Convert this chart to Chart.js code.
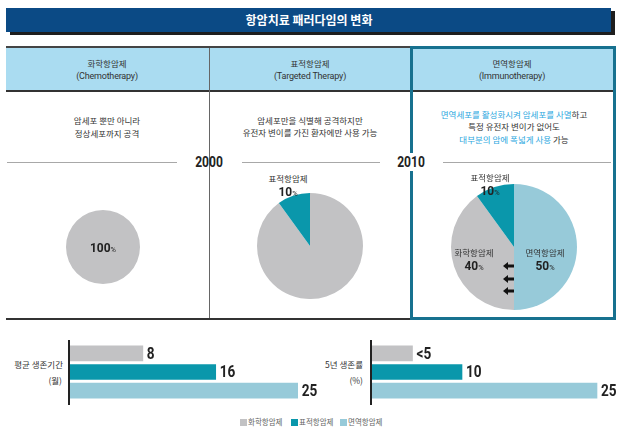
<!DOCTYPE html>
<html>
<head>
<meta charset="utf-8">
<script src="https://cdn.jsdelivr.net/npm/chart.js@4.4.1/dist/chart.umd.min.js"></script>
<style>
body { margin: 0; width: 630px; height: 436px; background: #fff; position: relative; overflow: hidden;
       font-family: 'Noto Sans CJK KR', sans-serif; color: #333; }
.a { position: absolute; }
.t { position: absolute; transform: translate(-50%, -50%); white-space: nowrap; text-align: center; line-height: 1; }
.r { position: absolute; transform: translate(-100%, -50%); white-space: nowrap; text-align: right; line-height: 1; }
.kr { font-size: 8.5px; }
.en { font-family: Roboto, 'Liberation Sans', sans-serif; font-size: 9px; letter-spacing: -0.2px; }
.num { font-family: Roboto, 'Liberation Sans', sans-serif; font-weight: bold; font-size: 14px; color: #222;
       transform: translate(-50%, -50%) scaleX(0.86); }
.pn { font-size: 13px; transform: translate(-50%, -50%) scaleX(0.92); }
.num small { font-size: 8px; font-weight: normal; }
.hl { color: #2aa7e0; }
.hline { position: absolute; height: 1px; background: #a8a8a8; }
canvas { position: absolute; }
.lg { position: absolute; top: 419px; width: 7px; height: 7px; }
.lt { position: absolute; top: 418px; font-size: 7.5px; color: #666; line-height: 1; }
</style>
</head>
<body>

<!-- title bar -->
<div class="a" style="left:6px;top:8px;width:605px;height:24px;background:#0b4a85;box-shadow:4px 3px 0 #1e1e1e;"></div>
<div class="t" style="left:309px;top:20px;color:#fff;font-size:12px;font-weight:bold;">항암치료 패러다임의 변화</div>

<!-- header band -->
<div class="a" style="left:6px;top:46px;width:608px;height:42px;background:#aadcf1;border-top:2px solid #444;border-bottom:2px solid #333;"></div>
<div class="a" style="left:209px;top:48px;width:1px;height:270px;background:#666;"></div>
<div class="a" style="left:6px;top:318px;width:405px;height:2px;background:#333;"></div>
<div class="a" style="left:410px;top:46px;width:206px;height:274px;border:3px solid #17718f;box-sizing:border-box;"></div>

<div class="t kr" style="left:107px;top:63px;">화학항암제</div>
<div class="t en" style="left:107px;top:76px;">(Chemotherapy)</div>
<div class="t kr" style="left:310px;top:63px;">표적항암제</div>
<div class="t en" style="left:310px;top:76px;">(Targeted Therapy)</div>
<div class="t kr" style="left:512px;top:63px;">면역항암제</div>
<div class="t en" style="left:512px;top:76px;">(Immunotherapy)</div>

<!-- descriptions -->
<div class="t kr" style="left:107px;top:120px;">암세포 뿐만 아니라</div>
<div class="t kr" style="left:107px;top:133px;">정상세포까지 공격</div>
<div class="t kr" style="left:310px;top:120px;">암세포만을 식별해 공격하지만</div>
<div class="t kr" style="left:310px;top:132px;">유전자 변이를 가진 환자에만 사용 가능</div>
<div class="t kr" style="left:514px;top:114px;"><span class="hl">면역세포를 활성화시켜 암세포를 사멸</span>하고</div>
<div class="t kr" style="left:514px;top:126px;">특정 유전자 변이가 없어도</div>
<div class="t kr" style="left:514px;top:139px;"><span class="hl">대부분의 암에 폭넓게 사용</span> 가능</div>

<!-- timeline -->
<div class="hline" style="left:7px;top:162px;width:170px;"></div>
<div class="hline" style="left:242px;top:162px;width:138px;"></div>
<div class="hline" style="left:443px;top:162px;width:168px;"></div>
<div class="t num" style="left:209px;top:162px;">2000</div>
<div class="t num" style="left:411px;top:162px;background:#fff;padding:2px 3px;">2010</div>

<!-- pies -->
<canvas id="pie1" width="74" height="74" style="left:66px;top:210px;"></canvas>
<canvas id="pie2" width="106" height="106" style="left:257px;top:193px;"></canvas>
<canvas id="pie3" width="126" height="126" style="left:451px;top:184px;"></canvas>

<div class="t num pn" style="left:103px;top:247px;">100<small>%</small></div>
<div class="t kr" style="left:288px;top:178px;">표적항암제</div>
<div class="t num pn" style="left:288px;top:191px;">10<small>%</small></div>
<div class="t kr" style="left:490px;top:177px;">표적항암제</div>
<div class="t num pn" style="left:490px;top:190px;">10<small>%</small></div>
<div class="t kr" style="left:474px;top:252px;">화학항암제</div>
<div class="t num pn" style="left:474px;top:265px;">40<small>%</small></div>
<div class="t kr" style="left:545px;top:252px;">면역항암제</div>
<div class="t num pn" style="left:545px;top:265px;">50<small>%</small></div>

<svg class="a" style="left:503px;top:262px;" width="12" height="34">
  <path d="M0 4 L5 0 L5 2.5 L11 2.5 L11 5.5 L5 5.5 L5 8 Z" fill="#111"/>
  <path d="M0 17 L5 13 L5 15.5 L11 15.5 L11 18.5 L5 18.5 L5 21 Z" fill="#111"/>
  <path d="M0 29 L5 25 L5 27.5 L11 27.5 L11 30.5 L5 30.5 L5 33 Z" fill="#111"/>
</svg>

<!-- bar charts -->
<div class="r kr" style="left:63px;top:364px;">평균 생존기간</div>
<div class="r kr" style="left:62px;top:380px;">(월)</div>
<canvas id="bar1" width="258" height="68" style="left:67px;top:338px;"></canvas>

<div class="r kr" style="left:363px;top:364px;">5년 생존률</div>
<div class="r kr" style="left:363px;top:380px;">(%)</div>
<canvas id="bar2" width="255" height="68" style="left:369px;top:338px;"></canvas>

<!-- legend -->
<div class="lg" style="left:240px;background:#c2c2c4;"></div>
<div class="lt" style="left:248px;">화학항암제</div>
<div class="lg" style="left:291px;background:#0a97ab;"></div>
<div class="lt" style="left:299px;">표적항암제</div>
<div class="lg" style="left:340px;background:#97cad9;"></div>
<div class="lt" style="left:348px;">면역항암제</div>

<script>
// therapy names and colours
const therapies = ['화학항암제', '표적항암제', '면역항암제'];
const therapyColors = ['#c2c2c4', '#0a97ab', '#97cad9'];

// treatment share (%) per era, clockwise from 12 o'clock
const eraChemoLabels = ['화학항암제'];
const eraChemoShare = [100];
const era2000Labels = ['화학항암제', '표적항암제'];
const era2000Share = [90, 10];
const era2010Labels = ['면역항암제', '화학항암제', '표적항암제'];
const era2010Share = [50, 40, 10];

// bottom bar charts
const survivalMonths = [8, 16, 25];
const survivalText = ['8', '16', '25'];
const fiveYearRate = [4.5, 10, 25];
const fiveYearText = ['<5', '10', '25'];

const colorOf = name => therapyColors[therapies.indexOf(name)];

function makePie(id, labels, values) {
    return new Chart(document.getElementById(id), {
        type: 'pie',
        data: {
            labels: labels,
            datasets: [{
                data: values,
                backgroundColor: labels.map(colorOf),
                borderWidth: 0,
                hoverOffset: 0
            }]
        },
        options: {
            responsive: false,
            animation: false,
            events: [],
            layout: { padding: 0 },
            plugins: { legend: { display: false }, tooltip: { enabled: false } }
        }
    });
}

makePie('pie1', eraChemoLabels, eraChemoShare);
makePie('pie2', era2000Labels, era2000Share);
makePie('pie3', era2010Labels, era2010Share);

// vertical axis line at the left of the bars
const axisLine = {
    id: 'axisLine',
    afterDatasetsDraw(chart) {
        const { ctx, chartArea } = chart;
        ctx.save();
        ctx.fillStyle = '#222';
        ctx.fillRect(chartArea.left - 2, chartArea.top - 4, 2, chartArea.bottom - chartArea.top + 9);
        ctx.restore();
    }
};

// value text after each bar (condensed bold look)
const valueText = {
    id: 'valueText',
    afterDatasetsDraw(chart, args, opts) {
        const { ctx } = chart;
        const meta = chart.getDatasetMeta(0);
        meta.data.forEach((bar, i) => {
            ctx.save();
            ctx.font = 'bold 17px Roboto, "Liberation Sans", sans-serif';
            ctx.fillStyle = '#222';
            ctx.textBaseline = 'middle';
            ctx.translate(bar.x + 4, bar.y + 1);
            ctx.scale(0.8, 1);
            ctx.fillText(opts.texts[i], 0, 0);
            ctx.restore();
        });
    }
};

function makeBars(id, values, texts) {
    return new Chart(document.getElementById(id), {
        type: 'bar',
        data: {
            labels: therapies,
            datasets: [{
                data: values,
                backgroundColor: therapyColors,
                borderWidth: 0,
                barThickness: 15
            }]
        },
        options: {
            indexAxis: 'y',
            responsive: false,
            animation: false,
            events: [],
            layout: { padding: { left: 3, right: 0, top: 6, bottom: 6 } },
            scales: {
                x: { display: false, min: 0, max: 28 },
                y: { display: false }
            },
            plugins: {
                legend: { display: false },
                tooltip: { enabled: false },
                valueText: { texts: texts }
            }
        },
        plugins: [axisLine, valueText]
    });
}

makeBars('bar1', survivalMonths, survivalText);
makeBars('bar2', fiveYearRate, fiveYearText);
</script>
</body>
</html>
